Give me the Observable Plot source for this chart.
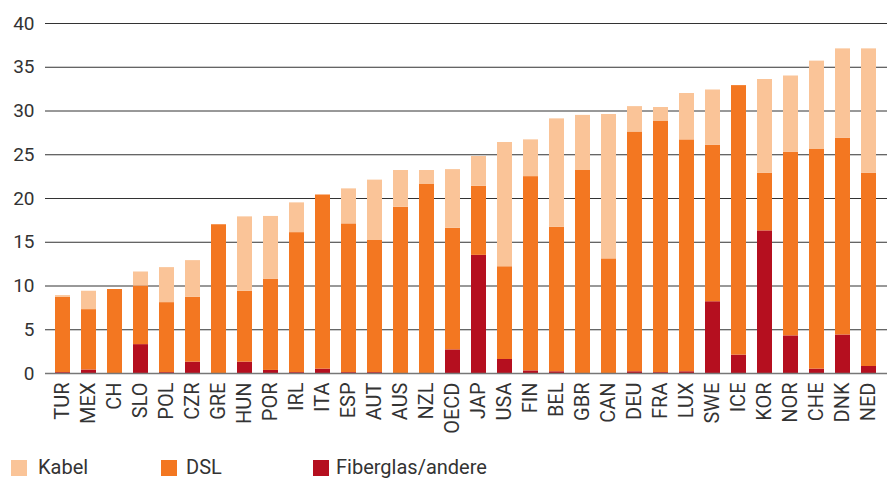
<!DOCTYPE html>
<html>
<head>
<meta charset="utf-8">
<script src="https://cdn.jsdelivr.net/npm/d3@7"></script>
<script src="https://cdn.jsdelivr.net/npm/@observablehq/plot@0.6"></script>
<style>
  body { margin: 0; background: #fff; }
  #wrap { position: relative; width: 895px; height: 480px; overflow: hidden; font-family: Roboto, sans-serif; }
  #chart { position: absolute; left: 0; top: 0; }
  #legend { position: absolute; left: 0; top: 459px; width: 895px; height: 21px; }
  .sw { position: absolute; top: 1px; width: 16px; height: 16px; }
  .lbl { position: absolute; top: -3px; white-space: nowrap; line-height: 23px; font-size: 20px; color: #333; }
</style>
</head>
<body>
<div id="wrap">
  <div id="chart"></div>
  <div id="legend"></div>
</div>
<script>
const countries = ["TUR","MEX","CH","SLO","POL","CZR","GRE","HUN","POR","IRL","ITA","ESP","AUT","AUS","NZL","OECD","JAP","USA","FIN","BEL","GBR","CAN","DEU","FRA","LUX","SWE","ICE","KOR","NOR","CHE","DNK","NED"];
const fiber = [0.1,0.4,0,3.3,0.1,1.3,0,1.3,0.35,0.1,0.5,0.1,0.1,0,0,2.7,13.5,1.6,0.3,0.2,0,0,0.2,0.1,0.2,8.2,2.1,16.3,4.3,0.5,4.4,0.8];
const dsl   = [8.6,6.9,9.6,6.7,8.0,7.4,17.0,8.1,10.4,16.0,19.9,17.0,15.1,19.0,21.6,13.9,7.9,10.6,22.2,16.5,23.2,13.1,27.4,28.7,26.5,17.9,30.8,6.6,21.0,25.1,22.5,22.1];
const kabel = [0.2,2.1,0,1.6,4.0,4.2,0,8.5,7.2,3.4,0,4.0,6.9,4.2,1.6,6.7,3.4,14.2,4.2,12.4,6.3,16.5,2.9,1.6,5.3,6.3,0,10.7,8.7,10.1,10.2,14.2];
const series = ["Fiberglas/andere","DSL","Kabel"];
const colors = ["#B50F1F","#F37721","#FAC498"];
const yTicks = [0,5,10,15,20,25,30,35,40];
const legendOrder = ["Kabel","DSL","Fiberglas/andere"];

const data = countries.flatMap((c, i) => [
  {c, type: series[0], v: fiber[i]},
  {c, type: series[1], v: dsl[i]},
  {c, type: series[2], v: kabel[i]}
]);

const chart = Plot.plot({
  width: 895,
  height: 440,
  marginLeft: 45,
  marginRight: 8,
  marginTop: 23,
  marginBottom: 67,
  style: {fontFamily: "Roboto, sans-serif", fontSize: "19px", color: "#333", background: "#fff"},
  x: {domain: countries, paddingInner: 0.41, paddingOuter: 0.1, label: null, tickSize: 0, tickRotate: -90, tickPadding: 9},
  y: {domain: [0, 40], ticks: yTicks, label: null, tickSize: 0, tickPadding: 11},
  color: {domain: series, range: colors},
  marks: [
    Plot.ruleY(yTicks.filter(d => d > 0), {stroke: "#333", strokeWidth: 1}),
    Plot.barY(data, {x: "c", y: "v", fill: "type", order: series}),
    Plot.ruleY([0], {stroke: "#777", strokeWidth: 1.5})
  ]
});
d3.select(chart).selectAll("[aria-label='x-axis tick label'] text").style("font-size", "20px");
document.getElementById("chart").appendChild(chart);

const lx = [11, 161, 313];
const tx = [38, 186, 336];
const leg = document.getElementById("legend");
legendOrder.forEach((name, i) => {
  const sw = document.createElement("div");
  sw.className = "sw";
  sw.style.left = lx[i] + "px";
  sw.style.background = colors[series.indexOf(name)];
  const t = document.createElement("div");
  t.className = "lbl";
  t.style.left = tx[i] + "px";
  t.textContent = name;
  leg.appendChild(sw); leg.appendChild(t);
});
</script>
</body>
</html>
